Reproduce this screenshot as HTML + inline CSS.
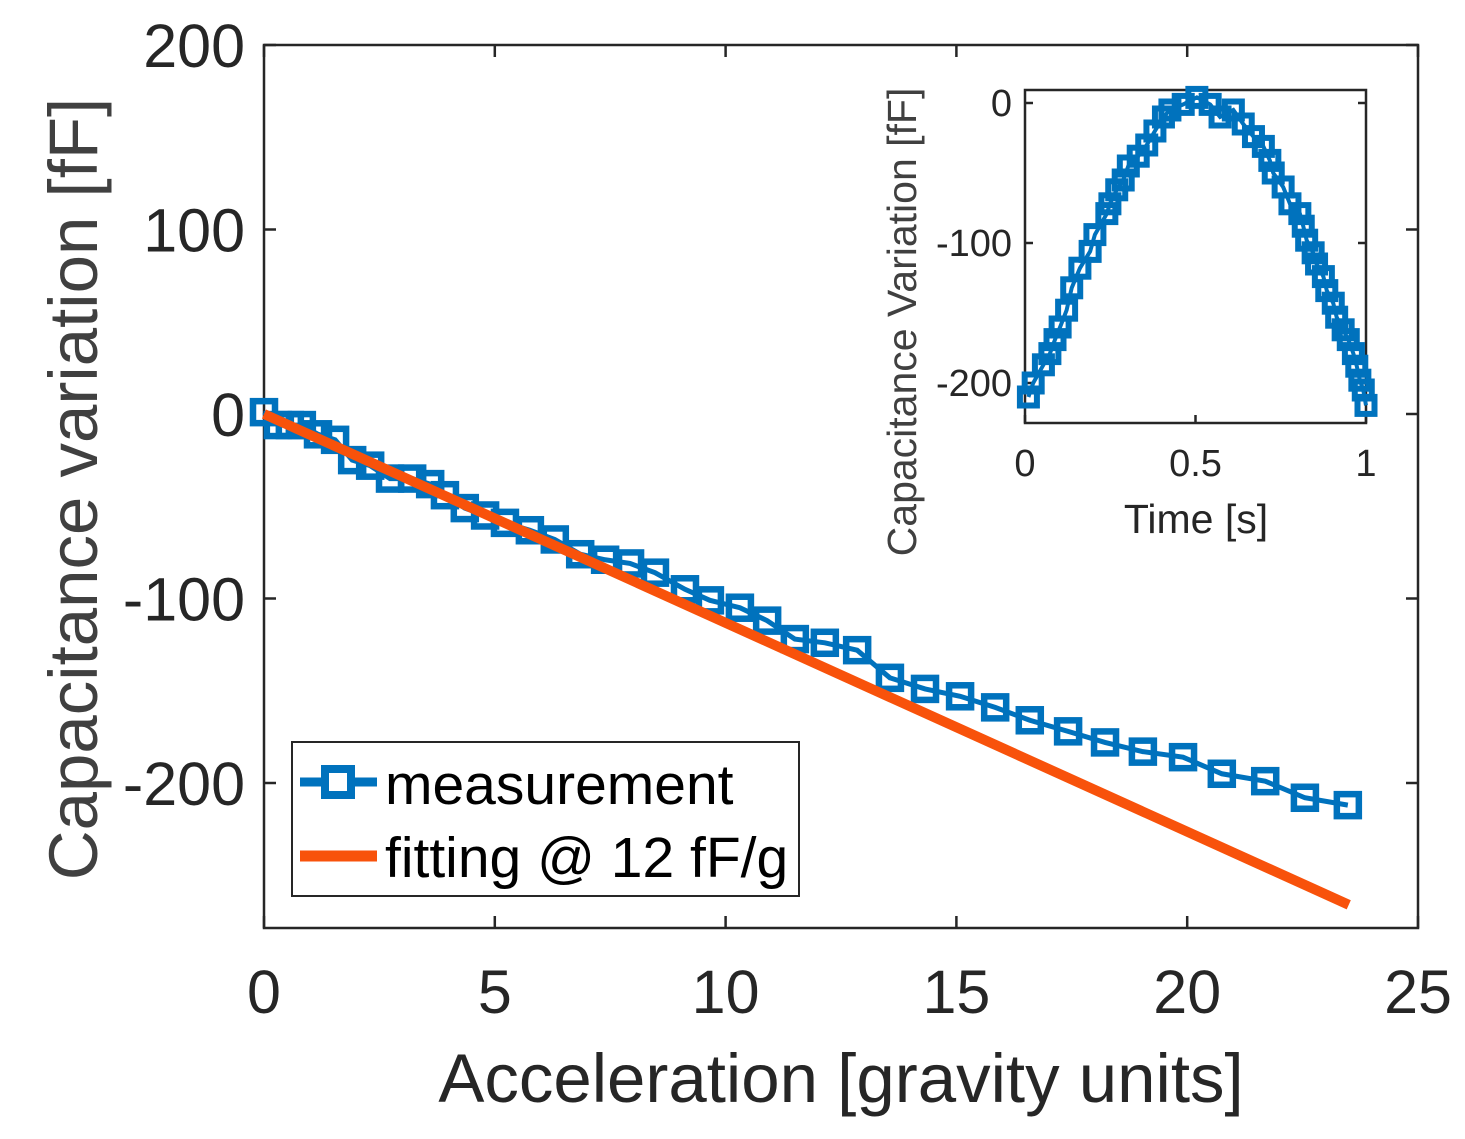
<!DOCTYPE html>
<html><head><meta charset="utf-8"><style>
html,body{margin:0;padding:0;background:#fff;}
svg{display:block;font-family:"Liberation Sans",Arial,sans-serif;}
</style></head><body>
<svg id="chart" width="1465" height="1139" viewBox="0 0 1465 1139" xmlns="http://www.w3.org/2000/svg">
<g id="main"></g>
<g id="inset"></g>
</svg>
<script>
const accel = [0,0.3,0.56,0.82,1.17,1.54,1.91,2.30,2.73,3.21,3.60,3.92,4.35,4.79,5.22,5.76,6.30,6.85,7.39,7.93,8.47,9.12,9.66,10.31,10.90,11.50,12.15,12.85,13.56,14.32,15.08,15.84,16.59,17.42,18.22,19.04,19.91,20.75,21.69,22.55,23.48];
const capVar = [1,-6,-6,-6,-11,-14,-25,-28,-35,-35,-38,-44,-51,-55,-59,-63,-68,-76,-79,-81,-86,-95,-101,-105,-112,-122,-124,-128,-143,-149,-153,-159,-166,-172,-178,-183,-186,-195,-199,-208,-212];
const fitX = [0,23.5];
const fitY = [0,-266];
const mainXTicks = [0,5,10,15,20,25];
const mainYTicks = [200,100,0,-100,-200];
const insetTime = [0.010,0.024,0.054,0.073,0.088,0.103,0.122,0.137,0.161,0.191,0.205,0.240,0.249,0.269,0.288,0.303,0.332,0.357,0.381,0.406,0.425,0.464,0.504,0.543,0.572,0.611,0.640,0.670,0.699,0.718,0.728,0.757,0.777,0.806,0.816,0.826,0.845,0.855,0.875,0.885,0.904,0.914,0.933,0.948,0.963,0.973,0.982,0.992,1.0];
const insetCap = [-210,-200,-187,-179,-169,-160,-148,-132,-118,-106,-94,-79,-72,-62,-55,-45,-38,-30,-20,-10,-5,-1,4,-1,-10,-5,-15,-24,-31,-41,-50,-60,-72,-79,-88,-98,-107,-115,-124,-134,-143,-153,-162,-169,-179,-188,-198,-205,-216];
const insetXTicks = [0,0.5,1];
const insetXTickLabels = ["0","0.5","1"];
const insetYTicks = [0,-100,-200];

const NS="http://www.w3.org/2000/svg";
function mk(parent,tag,attrs,text){const e=document.createElementNS(NS,tag);for(const k in attrs)e.setAttribute(k,attrs[k]);if(text!==undefined)e.textContent=text;parent.appendChild(e);return e;}

const L=264,R=1418,T=45,B=928;
const xs=v=>L+(v-0)/25*(R-L);
const ys=v=>414-v*1.845;
const main=document.getElementById('main');
let e;
e=mk(main,'rect',{x:L,y:T,width:R-L,height:B-T,fill:'#fff',stroke:'#262626','stroke-width':2.5});


mainXTicks.forEach(t=>{
  const x=xs(t);
  mk(main,'line',{x1:x,y1:B,x2:x,y2:B-12,stroke:'#262626','stroke-width':2.5});
  mk(main,'line',{x1:x,y1:T,x2:x,y2:T+12,stroke:'#262626','stroke-width':2.5});
  e=mk(main,'text',{x:x,y:1013,'font-size':61,'text-anchor':'middle',fill:'#262626'},String(t));
  
  
});
mainYTicks.forEach(t=>{
  const y=ys(t);
  mk(main,'line',{x1:L,y1:y,x2:L+12,y2:y,stroke:'#262626','stroke-width':2.5});
  mk(main,'line',{x1:R,y1:y,x2:R-12,y2:y,stroke:'#262626','stroke-width':2.5});
  e=mk(main,'text',{x:245,y:y+22,'font-size':61,'text-anchor':'end',fill:'#262626'},String(t));
  
  
});
e=mk(main,'text',{x:841,y:1102,'font-size':69,'text-anchor':'middle',fill:'#262626'},'Acceleration [gravity units]');


e=mk(main,'text',{x:0,y:0,'font-size':69,'text-anchor':'middle',fill:'#404040',transform:'translate(97,489) rotate(-90)'},'Capacitance variation [fF]');



e=mk(main,'polyline',{points:accel.map((a,i)=>xs(a)+','+ys(capVar[i])).join(' '),fill:'none',stroke:'#0072BD','stroke-width':5});


accel.forEach((a,i)=>{
  const m=mk(main,'rect',{x:xs(a)-11,y:ys(capVar[i])-11,width:22,height:22,fill:'none',stroke:'#0072BD','stroke-width':6.5});
  
  
});
e=mk(main,'line',{x1:xs(fitX[0]),y1:ys(fitY[0]),x2:xs(fitX[1]),y2:ys(fitY[1]),stroke:'#F8520B','stroke-width':10});



const lg=mk(main,'g',{});


mk(lg,'rect',{x:292,y:742,width:507,height:154,fill:'#fff',stroke:'#262626','stroke-width':2});
mk(lg,'line',{x1:300,y1:782,x2:377,y2:782,stroke:'#0072BD','stroke-width':9});
mk(lg,'rect',{x:325,y:769,width:26,height:26,fill:'#fff',stroke:'#0072BD','stroke-width':8});
e=mk(lg,'text',{x:385,y:804,'font-size':57,fill:'#000'},'measurement');


mk(lg,'line',{x1:300,y1:856,x2:377,y2:856,stroke:'#F8520B','stroke-width':11});
e=mk(lg,'text',{x:385,y:877,'font-size':57,fill:'#000'},'fitting @ 12 fF/g');



const IL=1025,IR=1366,IT=90,IB=423;
const ixs=v=>IL+v*(IR-IL);
const iys=v=>103-v*1.4;
const ins=document.getElementById('inset');
e=mk(ins,'rect',{x:IL,y:IT,width:IR-IL,height:IB-IT,fill:'#fff',stroke:'#262626','stroke-width':2.5});


insetXTicks.forEach((t,i)=>{
  const x=ixs(t);
  mk(ins,'line',{x1:x,y1:IB,x2:x,y2:IB-8,stroke:'#262626','stroke-width':2.5});
  e=mk(ins,'text',{x:x,y:476,'font-size':38,'text-anchor':'middle',fill:'#262626'},insetXTickLabels[i]);
  
  
});
insetYTicks.forEach(t=>{
  const y=iys(t);
  mk(ins,'line',{x1:IL,y1:y,x2:IL+8,y2:y,stroke:'#262626','stroke-width':2.5});
  mk(ins,'line',{x1:IR,y1:y,x2:IR-8,y2:y,stroke:'#262626','stroke-width':2.5});
  e=mk(ins,'text',{x:1012,y:y+13,'font-size':38,'text-anchor':'end',fill:'#262626'},String(t));
  
  
});
e=mk(ins,'text',{x:1196,y:533,'font-size':41,'text-anchor':'middle',fill:'#262626'},'Time [s]');


e=mk(ins,'text',{x:0,y:0,'font-size':41,'text-anchor':'middle',fill:'#404040',transform:'translate(916,322) rotate(-90)'},'Capacitance Variation [fF]');


e=mk(ins,'polyline',{points:insetTime.map((t,i)=>ixs(t)+','+iys(insetCap[i])).join(' '),fill:'none',stroke:'#0072BD','stroke-width':4});


insetTime.forEach((t,i)=>{
  const m=mk(ins,'rect',{x:ixs(t)-8.5,y:iys(insetCap[i])-8.5,width:17,height:17,fill:'none',stroke:'#0072BD','stroke-width':6});
  
  
});
</script>
</body></html>
